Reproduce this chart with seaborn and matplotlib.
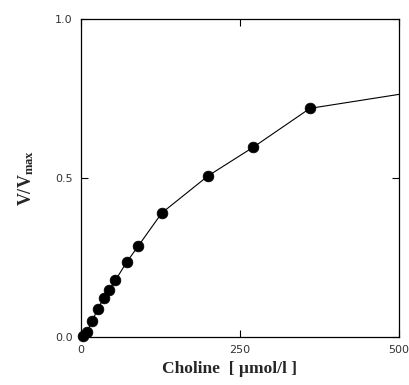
import matplotlib
matplotlib.use("Agg")
import matplotlib.pyplot as plt
import seaborn as sns
import pandas as pd

# Data
choline = [3, 9, 18, 26, 36, 44.5, 54, 72, 90, 127, 200, 271, 360]
v_rel = [0.003, 0.016, 0.051, 0.088, 0.122, 0.148, 0.178, 0.236, 0.286, 0.39, 0.507, 0.597, 0.719]
# the connecting line continues to the right edge of the axes
line_end_x = [500]
line_end_y = [0.763]

x_ticks = [0, 250, 500]
x_ticklabels = ["0", "250", "500"]
y_ticks = [0.0, 0.5, 1.0]
y_ticklabels = ["0.0", "0.5", "1.0"]

sns.set_theme(style="ticks")
plt.rcParams["font.family"] = ["DejaVu Sans"]
plt.rcParams["mathtext.fontset"] = "custom"
plt.rcParams["mathtext.rm"] = "Liberation Serif:bold"
plt.rcParams["mathtext.bf"] = "Liberation Serif:bold"

pts = pd.DataFrame({"x": choline, "y": v_rel})
line = pd.DataFrame({"x": choline + line_end_x, "y": v_rel + line_end_y})

fig = plt.figure(figsize=(4.10, 3.85), dpi=100)
ax = fig.add_axes([81 / 410, 1 - 337 / 385, 318 / 410, 318 / 385])

sns.lineplot(data=line, x="x", y="y", ax=ax, color="black", linewidth=0.8,
             sort=False, estimator=None)
sns.scatterplot(data=pts, x="x", y="y", ax=ax, color="black", s=60,
                edgecolor="black", linewidth=0.5, zorder=3, clip_on=False)

ax.set_xlim(0, 500)
ax.set_ylim(0, 1.0)
ax.set_xticks(x_ticks)
ax.set_xticklabels(x_ticklabels)
ax.set_yticks(y_ticks)
ax.set_yticklabels(y_ticklabels)
ax.tick_params(direction="in", length=5, width=0.8, top=True, right=True,
               labelsize=8, pad=6, colors="black", labelcolor="#333333")
for sp in ax.spines.values():
    sp.set_linewidth(0.9)
    sp.set_color("black")

ax.set_xlabel("Choline  [ µmol/l ]", family="Liberation Serif", fontweight="bold",
              fontsize=12.5)
ax.xaxis.set_label_coords(0.467, -0.075)
ax.xaxis.label.set_va("top")
ax.set_ylabel(r"$\mathbf{V/V_{max}}$", fontsize=13, labelpad=14)

fig.savefig("out.png", dpi=100)
